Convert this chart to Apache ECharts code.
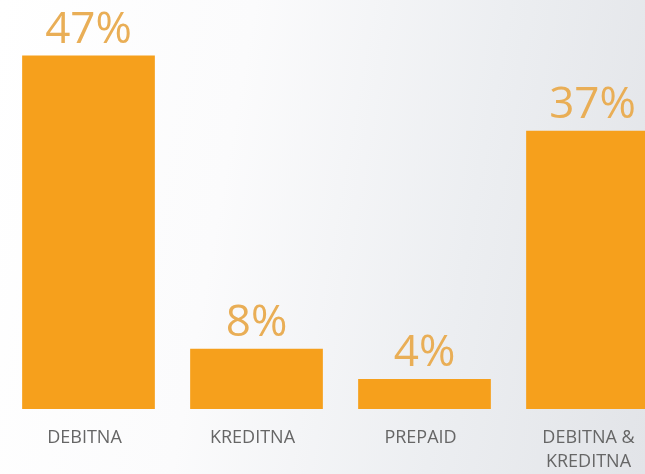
<!DOCTYPE html>
<html>
<head>
<meta charset="utf-8">
<script src="https://cdn.jsdelivr.net/npm/echarts@6/dist/echarts.min.js"></script>
<style>
html,body{margin:0;padding:0;overflow:hidden;}
#wrap{width:645px;height:474px;overflow:hidden;background:linear-gradient(100deg,#ffffff 0%,#fbfbfc 35%,#eceef1 70%,#e2e4e8 100%);}
#c{width:680px;height:474px;}
</style>
</head>
<body>
<div id="wrap"><div id="c"></div></div>
<script>
var categories = ['DEBITNA', 'KREDITNA', 'PREPAID', 'DEBITNA &\nKREDITNA'];
var values = [47, 8, 4, 37];

var chart = echarts.init(document.getElementById('c'));
chart.setOption({
  backgroundColor: 'transparent',
  animation: false,
  grid: {left: 4.5, right: 3.5, top: 33, bottom: 64},
  xAxis: {
    type: 'category',
    data: categories,
    axisLine: {show: false},
    axisTick: {show: false},
    axisLabel: {
      interval: 0,
      margin: 17,
      color: '#666',
      fontSize: 18,
      fontFamily: 'Open Sans',
      lineHeight: 24,
      padding: [0, 8, 0, 0]
    }
  },
  yAxis: {
    type: 'value',
    min: 0,
    max: 50,
    show: false,
    splitLine: {show: false}
  },
  series: [{
    type: 'bar',
    data: values,
    barCategoryGap: '21%',
    itemStyle: {color: '#F6A01C'},
    label: {
      show: true,
      position: 'top',
      distance: 3,
      formatter: '{c}%',
      color: '#E9AE56',
      fontSize: 44,
      fontFamily: 'Open Sans'
    }
  }]
});
</script>
</body>
</html>
